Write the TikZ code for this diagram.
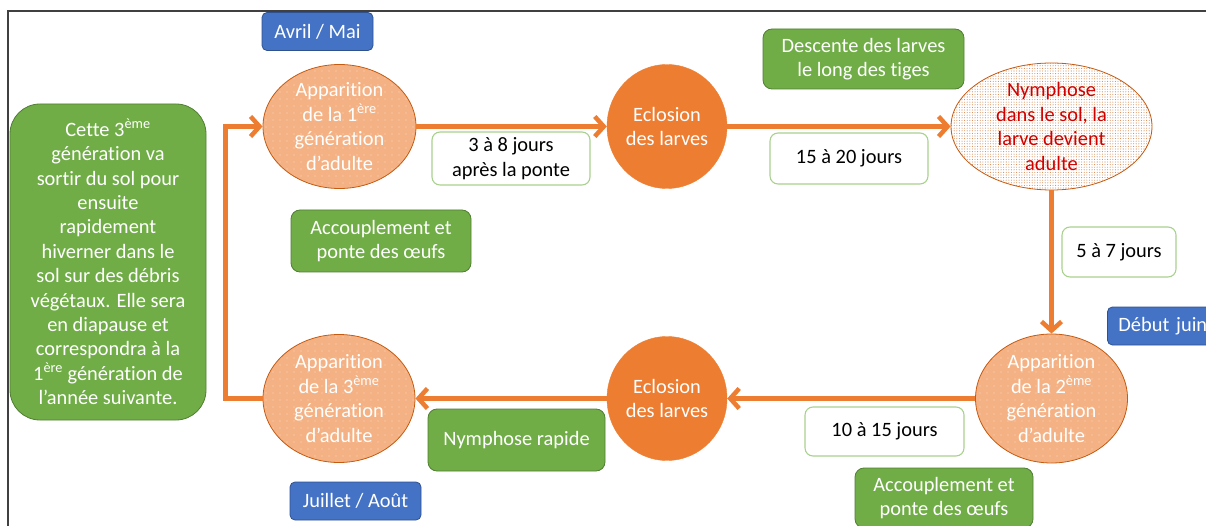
\documentclass[tikz,border=0pt]{standalone}
\usepackage{fontspec}
\setmainfont{Carlito}[Ligatures=CommonOff]
\usetikzlibrary{shapes.geometric,arrows.meta,patterns.meta}
\definecolor{org}{HTML}{ED7D31}
\definecolor{lorg}{HTML}{F4B183}
\definecolor{borg}{HTML}{C55A11}
\definecolor{grn}{HTML}{70AD47}
\definecolor{dgrn}{HTML}{507E32}
\definecolor{lgrn}{HTML}{A9D18E}
\definecolor{blu}{HTML}{4472C4}
\definecolor{dblu}{HTML}{2F528F}
\definecolor{redt}{HTML}{D00000}
\definecolor{frame}{HTML}{404040}
\begin{document}
\begin{tikzpicture}[x=1pt,y=-1pt,
  every node/.style={font=\fontsize{20.4}{24.4}\selectfont, align=center, inner sep=0pt},
  bluebox/.style={draw=dblu, fill=blu, text=white, rounded corners=5pt, line width=0.8pt, minimum height=38pt},
  greenbox/.style={draw=dgrn, fill=grn, text=white, rounded corners=9pt, line width=0.8pt},
  durbox/.style={draw=lgrn, fill=white, text=black, rounded corners=8pt, line width=1.1pt},
  adult/.style={ellipse, draw=borg, line width=0.8pt, preaction={fill=lorg},
    pattern={Dots[distance=7pt,radius=0.7pt]}, pattern color=white!55!lorg, text=white},
  hatch/.style={ellipse, draw=org, fill=org, text=white},
  nymph/.style={ellipse, draw=borg, line width=0.8pt, preaction={fill=white},
    pattern={Dots[distance=2.6pt,radius=0.55pt]}, pattern color=borg!70, text=redt},
  arr/.style={draw=org, line width=4.5pt, -{Straight Barb[length=9pt,width=20pt]}}
]
\useasboundingbox (0,0) rectangle (1206,526);
\clip (0,0) rectangle (1206,526);
% frame
\coordinate (fbl) at (8,530);
\coordinate (ftl) at (8,11);
\coordinate (ftr) at (1210,11);
\draw[frame, line width=1.3pt] (fbl) -- (ftl) -- (ftr);

% ellipses
\node[adult, minimum width=153pt, minimum height=124pt] (e1) at (339.5,126.5)
  {Apparition\\de la 1\textsuperscript{ère}\\génération\\d’adulte};
\node[hatch, minimum width=120pt, minimum height=124pt] (e2) at (667,126.5)
  {Eclosion\\des larves};
\node[nymph, minimum width=201pt, minimum height=127pt] (e3) at (1051.5,126.5)
  {Nymphose\\dans le sol, la\\larve devient\\adulte};
\node[adult, minimum width=152pt, minimum height=129pt] (e4) at (1051.5,398.5)
  {Apparition\\de la 2\textsuperscript{ème}\\génération\\d’adulte};
\node[hatch, minimum width=120pt, minimum height=124pt] (e5) at (667,398.5)
  {Eclosion\\des larves};
\node[adult, minimum width=152pt, minimum height=128pt] (e6) at (339,398.5)
  {Apparition\\de la 3\textsuperscript{ème}\\génération\\d’adulte};

% arrows
\draw[arr] (e1) -- (e2);
\draw[arr] (e2) -- (e3);
\draw[arr] (e3) -- (e4);
\draw[arr] (e4) -- (e5);
\draw[arr] (e5) -- (e6);
\draw[arr] (e6.west) -- ++(-37,0) |- (e1.west);

% blue boxes
\node[bluebox, minimum width=111pt] (avril) at (317.5,31.5) {Avril / Mai};
\node[bluebox, minimum width=131pt] (juillet) at (355.5,501) {Juillet / Août};
\node[bluebox, anchor=west, text width=100pt, align=left, inner xsep=11pt] (juin) at (1107,326) {Début juin};

% green boxes
\node[greenbox, rounded corners=30pt, minimum width=196pt, minimum height=316pt] (left) at (108,262)
  {Cette 3\textsuperscript{ème}\\génération va\\sortir du sol pour\\ensuite\\rapidement\\hiverner dans le\\sol sur des débris\\végétaux. Elle sera\\en diapause et\\correspondra à la\\1\textsuperscript{ère} génération de\\l’année suivante.};
\node[greenbox, minimum width=180pt, minimum height=62pt] (acc1) at (381,241)
  {Accouplement et\\ponte des œufs};
\node[greenbox, minimum width=201pt, minimum height=60pt] (desc) at (863.5,59)
  {Descente des larves\\le long des tiges};
\node[greenbox, minimum width=177pt, minimum height=62pt] (nrap) at (516.5,440)
  {Nymphose rapide};
\node[greenbox, minimum width=178pt, minimum height=60pt] (acc2) at (944,498)
  {Accouplement et\\ponte des œufs};

% duration boxes
\node[durbox, minimum width=158pt, minimum height=53pt] (d1) at (511,158.5)
  {3 à 8 jours\\après la ponte};
\node[durbox, minimum width=158pt, minimum height=51pt] (d2) at (849,158.5)
  {15 à 20 jours};
\node[durbox, minimum width=114pt, minimum height=50pt] (d3) at (1119,252)
  {5 à 7 jours};
\node[durbox, minimum width=159pt, minimum height=49pt] (d4) at (884.5,431.5)
  {10 à 15 jours};
\end{tikzpicture}
\end{document}
